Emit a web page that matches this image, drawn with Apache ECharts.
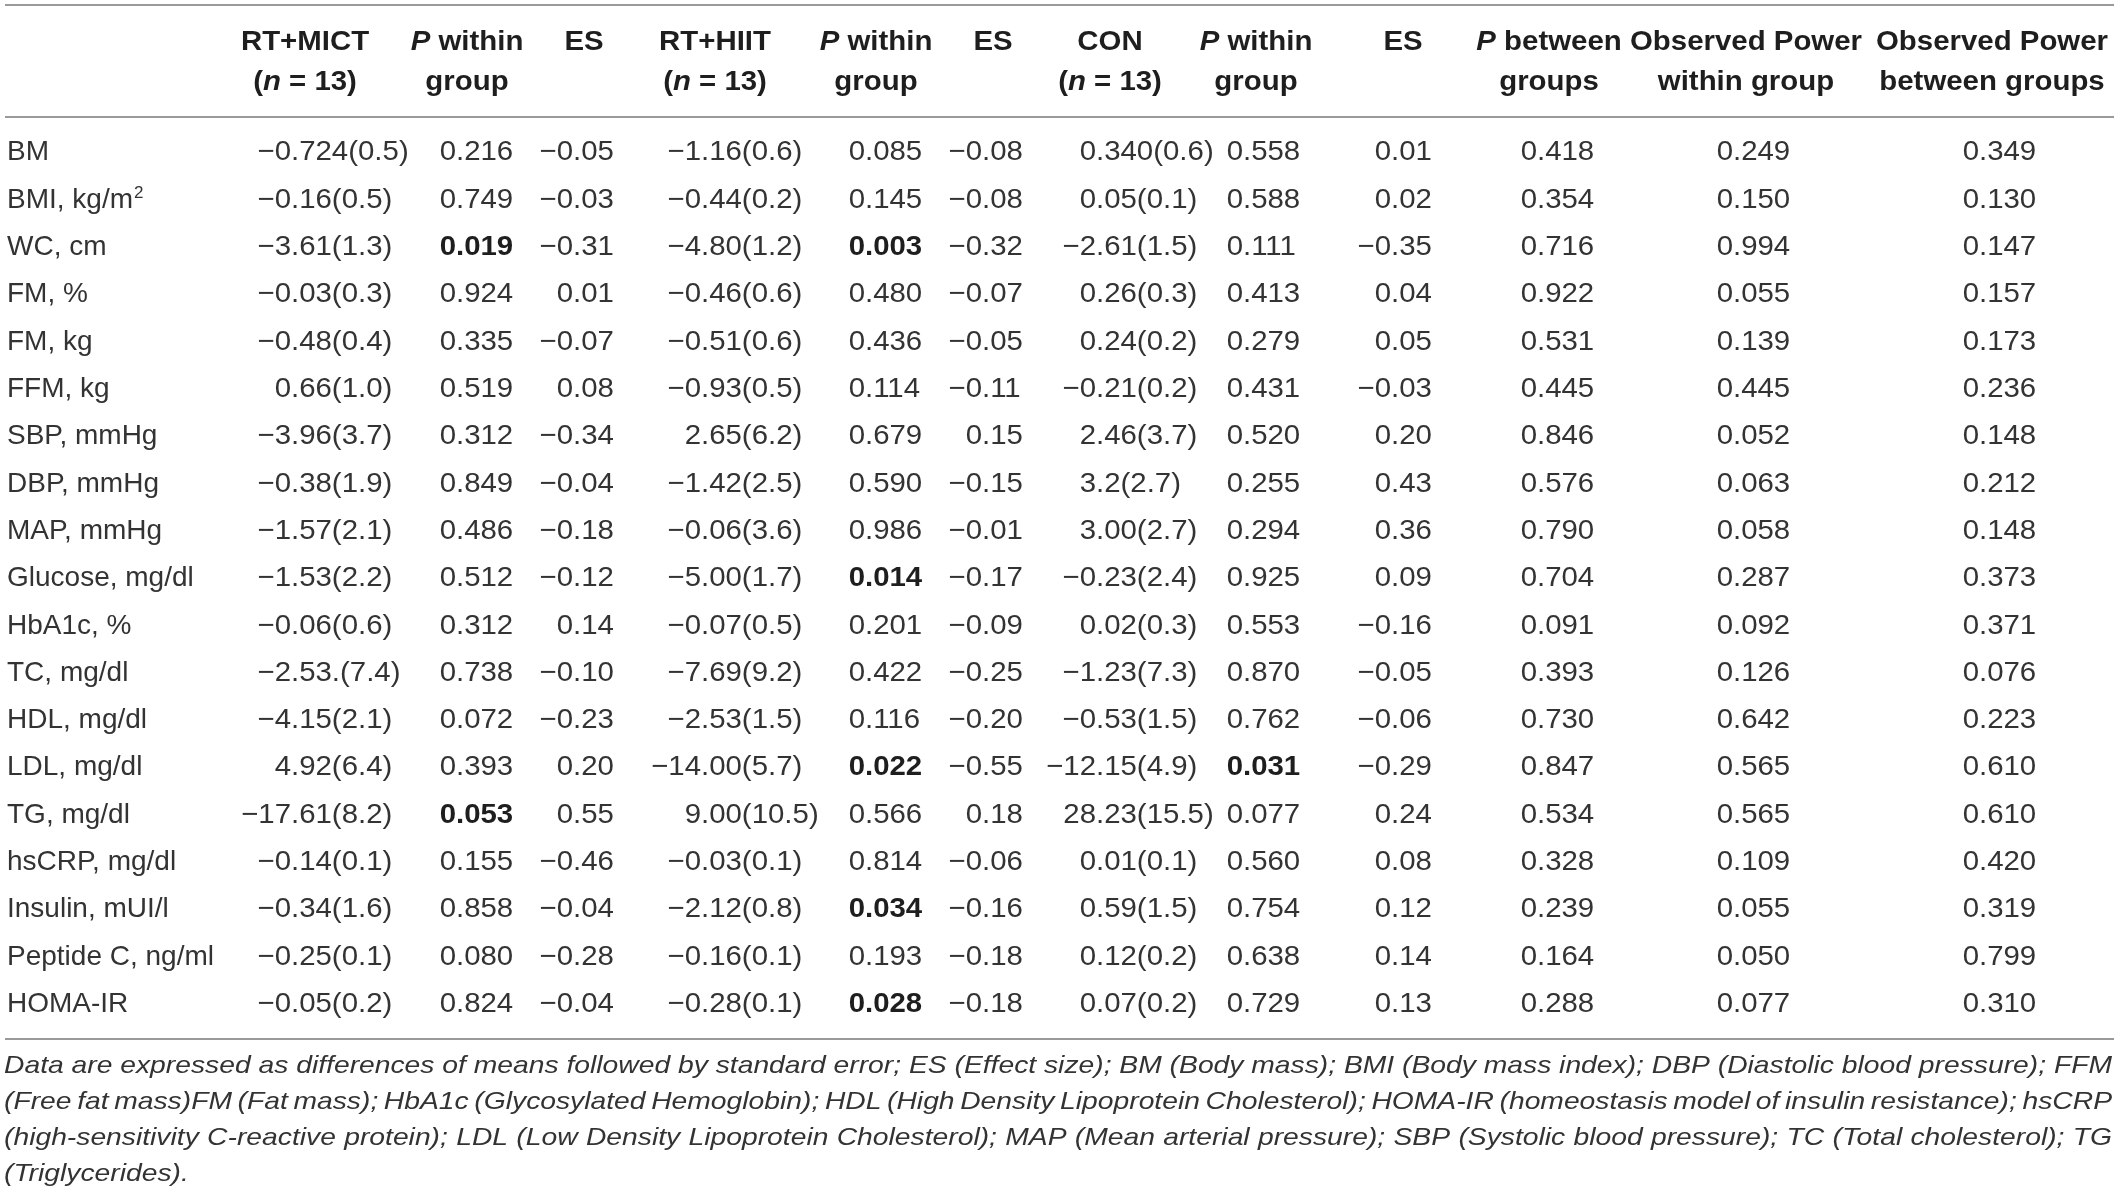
<!DOCTYPE html>
<html>
<head>
<meta charset="utf-8">
<title>Table</title>
<script src="https://cdn.jsdelivr.net/npm/echarts@6.0.0/dist/echarts.min.js"></script>
<style>
    html, body { margin: 0; padding: 0; background: #fff; }
    #main { width: 2118px; height: 1200px; }
</style>
</head>
<body>
<div id="main"></div>
<script>
// row names (BMI has a superscript 2)
var rowLabels = ['BM', 'BMI, kg/m{sup|2}', 'WC, cm', 'FM, %', 'FM, kg', 'FFM, kg', 'SBP, mmHg', 'DBP, mmHg',
    'MAP, mmHg', 'Glucose, mg/dl', 'HbA1c, %', 'TC, mg/dl', 'HDL, mg/dl', 'LDL, mg/dl', 'TG, mg/dl',
    'hsCRP, mg/dl', 'Insulin, mUI/l', 'Peptide C, ng/ml', 'HOMA-IR'];

var rtMict = ['−0.724(0.5)', '−0.16(0.5)', '−3.61(1.3)', '−0.03(0.3)', '−0.48(0.4)', '0.66(1.0)', '−3.96(3.7)',
    '−0.38(1.9)', '−1.57(2.1)', '−1.53(2.2)', '−0.06(0.6)', '−2.53.(7.4)', '−4.15(2.1)', '4.92(6.4)',
    '−17.61(8.2)', '−0.14(0.1)', '−0.34(1.6)', '−0.25(0.1)', '−0.05(0.2)'];
var pMict = ['0.216', '0.749', '0.019', '0.924', '0.335', '0.519', '0.312', '0.849', '0.486', '0.512', '0.312',
    '0.738', '0.072', '0.393', '0.053', '0.155', '0.858', '0.080', '0.824'];
var esMict = ['−0.05', '−0.03', '−0.31', '0.01', '−0.07', '0.08', '−0.34', '−0.04', '−0.18', '−0.12', '0.14',
    '−0.10', '−0.23', '0.20', '0.55', '−0.46', '−0.04', '−0.28', '−0.04'];
var rtHiit = ['−1.16(0.6)', '−0.44(0.2)', '−4.80(1.2)', '−0.46(0.6)', '−0.51(0.6)', '−0.93(0.5)', '2.65(6.2)',
    '−1.42(2.5)', '−0.06(3.6)', '−5.00(1.7)', '−0.07(0.5)', '−7.69(9.2)', '−2.53(1.5)', '−14.00(5.7)',
    '9.00(10.5)', '−0.03(0.1)', '−2.12(0.8)', '−0.16(0.1)', '−0.28(0.1)'];
var pHiit = ['0.085', '0.145', '0.003', '0.480', '0.436', '0.114', '0.679', '0.590', '0.986', '0.014', '0.201',
    '0.422', '0.116', '0.022', '0.566', '0.814', '0.034', '0.193', '0.028'];
var esHiit = ['−0.08', '−0.08', '−0.32', '−0.07', '−0.05', '−0.11', '0.15', '−0.15', '−0.01', '−0.17', '−0.09',
    '−0.25', '−0.20', '−0.55', '0.18', '−0.06', '−0.16', '−0.18', '−0.18'];
var con = ['0.340(0.6)', '0.05(0.1)', '−2.61(1.5)', '0.26(0.3)', '0.24(0.2)', '−0.21(0.2)', '2.46(3.7)',
    '3.2(2.7)', '3.00(2.7)', '−0.23(2.4)', '0.02(0.3)', '−1.23(7.3)', '−0.53(1.5)', '−12.15(4.9)',
    '28.23(15.5)', '0.01(0.1)', '0.59(1.5)', '0.12(0.2)', '0.07(0.2)'];
var pCon = ['0.558', '0.588', '0.111', '0.413', '0.279', '0.431', '0.520', '0.255', '0.294', '0.925', '0.553',
    '0.870', '0.762', '0.031', '0.077', '0.560', '0.754', '0.638', '0.729'];
var esCon = ['0.01', '0.02', '−0.35', '0.04', '0.05', '−0.03', '0.20', '0.43', '0.36', '0.09', '−0.16',
    '−0.05', '−0.06', '−0.29', '0.24', '0.08', '0.12', '0.14', '0.13'];
var pBetween = ['0.418', '0.354', '0.716', '0.922', '0.531', '0.445', '0.846', '0.576', '0.790', '0.704', '0.091',
    '0.393', '0.730', '0.847', '0.534', '0.328', '0.239', '0.164', '0.288'];
var powerWithin = ['0.249', '0.150', '0.994', '0.055', '0.139', '0.445', '0.052', '0.063', '0.058', '0.287',
    '0.092', '0.126', '0.642', '0.565', '0.565', '0.109', '0.055', '0.050', '0.077'];
var powerBetween = ['0.349', '0.130', '0.147', '0.157', '0.173', '0.236', '0.148', '0.212', '0.148', '0.373',
    '0.371', '0.076', '0.223', '0.610', '0.610', '0.420', '0.319', '0.799', '0.310'];

// column headers, two lines each ({i|..} = italic)
var headTop = ['RT+MICT', '{i|P} within', 'ES', 'RT+HIIT', '{i|P} within', 'ES', 'CON', '{i|P} within', 'ES',
    '{i|P} between', 'Observed Power', 'Observed Power'];
var headBottom = ['({i|n} = 13)', 'group', '', '({i|n} = 13)', 'group', '', '({i|n} = 13)', 'group', '',
    'groups', 'within group', 'between groups'];

var noteLines = [
    'Data are expressed as differences of means followed by standard error; ES (Effect size); BM (Body mass); BMI (Body mass index); DBP (Diastolic blood pressure); FFM',
    '(Free fat mass)FM (Fat mass); HbA1c (Glycosylated Hemoglobin); HDL (High Density Lipoprotein Cholesterol); HOMA-IR (homeostasis model of insulin resistance); hsCRP',
    '(high-sensitivity C-reactive protein); LDL (Low Density Lipoprotein Cholesterol); MAP (Mean arterial pressure); SBP (Systolic blood pressure); TC (Total cholesterol); TG',
    '(Triglycerides).'
];

var columns = [rtMict, pMict, esMict, rtHiit, pHiit, esHiit, con, pCon, esCon, pBetween, powerWithin, powerBetween];

// cells printed in bold: column index -> row indexes
var BOLD = {1: [2, 14], 4: [2, 9, 13, 16, 18], 7: [13]};

// layout: x of the decimal point per column, header centres
var COL_ANCHOR = [291, 456, 573, 701, 865, 982, 1096, 1243, 1391, 1537, 1733, 1979];
var HEAD_CENTER = [305, 467, 584, 715, 876, 993, 1110, 1256, 1403, 1549, 1746, 1992];

var FONT = '"Liberation Sans", Arial, sans-serif';
var TXT = '#333333';
var HEAD_TXT = '#1e1e1e';
var RULE = '#9a9a9a';
var CELL_SX = 1.05;   // the original face runs a little wider than Arial
var HEAD_SX = 1.05;

var dom = document.getElementById('main');
var myChart = echarts.init(dom, null, {renderer: 'canvas'});

var cells = [];
columns.forEach(function (col, c) {
    col.forEach(function (v, r) {
        cells.push([c, r]);
    });
});

function isBold(c, r) {
    return BOLD[c] ? BOLD[c].indexOf(r) >= 0 : false;
}

function cellText(str, x, y, align, bold) {
    return {
        type: 'text',
        x: x,
        y: y,
        scaleX: CELL_SX,
        style: {
            text: str, x: 0, y: 0,
            align: align, textAlign: align,
            verticalAlign: 'middle', textVerticalAlign: 'middle',
            fontSize: 28, fontFamily: FONT, fontWeight: bold ? 'bold' : 'normal',
            fill: bold ? HEAD_TXT : TXT
        }
    };
}

// split on the first decimal point so every column lines up on it
function renderCell(params, api) {
    var c = api.value(0), r = api.value(1);
    var s = columns[c][r];
    var p = api.coord([COL_ANCHOR[c], r]);
    var i = s.indexOf('.');
    var left = i < 0 ? s : s.slice(0, i);
    var right = i < 0 ? '' : s.slice(i);
    var b = isBold(c, r);
    return {
        type: 'group',
        children: [
            cellText(left, p[0], p[1], 'right', b),
            cellText(right, p[0], p[1], 'left', b)
        ]
    };
}

var option = {
    animation: false,
    backgroundColor: '#fff',
    grid: {left: 0, right: 0, top: 129, height: 899},
    xAxis: {type: 'value', min: 0, max: 2118, show: false},
    yAxis: {
        type: 'category',
        inverse: true,
        data: rowLabels,
        axisLine: {show: false},
        axisTick: {show: false},
        splitLine: {show: false},
        axisLabel: {
            interval: 0,
            align: 'left',
            margin: -7,
            fontSize: 28,
            fontFamily: FONT,
            color: TXT,
            rich: {
                sup: {fontSize: 17, fontFamily: FONT, color: TXT, verticalAlign: 'top', padding: [0, 0, 14, 1]}
            }
        }
    },
    series: [{
        type: 'custom',
        renderItem: renderCell,
        data: cells,
        encode: {x: 0, y: 1},
        clip: false
    }]
};
myChart.setOption(option);

// headers, rules and footnote
var graphics = [];
var HEAD_Y1 = 42, HEAD_Y2 = 82;
var headRich = {i: {fontStyle: 'italic', fontWeight: 'bold', fontSize: 28, fontFamily: FONT, color: HEAD_TXT}};
headTop.forEach(function (t, i) {
    var x = myChart.convertToPixel({xAxisIndex: 0}, HEAD_CENTER[i]);
    [t, headBottom[i]].forEach(function (line, k) {
        if (!line) {
            return;
        }
        graphics.push({type: 'text', x: x, y: k ? HEAD_Y2 : HEAD_Y1, scaleX: HEAD_SX,
            style: {text: line, fontSize: 28, fontWeight: 'bold', fontFamily: FONT, fill: HEAD_TXT,
                align: 'center', verticalAlign: 'middle', rich: headRich}});
    });
});

[5, 117, 1039].forEach(function (y) {
    graphics.push({type: 'line', shape: {x1: 5, y1: y, x2: 2114, y2: y}, style: {stroke: RULE, lineWidth: 2}});
});

// justified footnote, first line sets the horizontal stretch of the face
var NOTE_LEFT = 4, NOTE_RIGHT = 2112, NOTE_Y0 = 1066, NOTE_STEP = 36, NOTE_SIZE = 24;
var ctx = document.createElement('canvas').getContext('2d');
ctx.font = 'italic ' + NOTE_SIZE + 'px ' + FONT;
var noteSx = (NOTE_RIGHT - NOTE_LEFT) / ctx.measureText(noteLines[0]).width;
noteLines.forEach(function (line, li) {
    var words = line.split(' ');
    var widths = words.map(function (w) { return ctx.measureText(w).width * noteSx; });
    var total = widths.reduce(function (a, b) { return a + b; }, 0);
    var last = li === noteLines.length - 1;
    var gap = last ? ctx.measureText(' ').width * noteSx : (NOTE_RIGHT - NOTE_LEFT - total) / (words.length - 1);
    var x = NOTE_LEFT;
    words.forEach(function (w, k) {
        graphics.push({type: 'text', x: x, y: NOTE_Y0 + li * NOTE_STEP, scaleX: noteSx,
            style: {text: w, fontSize: NOTE_SIZE, fontStyle: 'italic', fontFamily: FONT, fill: TXT,
                align: 'left', verticalAlign: 'middle'}});
        x += widths[k] + gap;
    });
});

myChart.setOption({graphic: {elements: graphics}});
</script>
</body>
</html>
